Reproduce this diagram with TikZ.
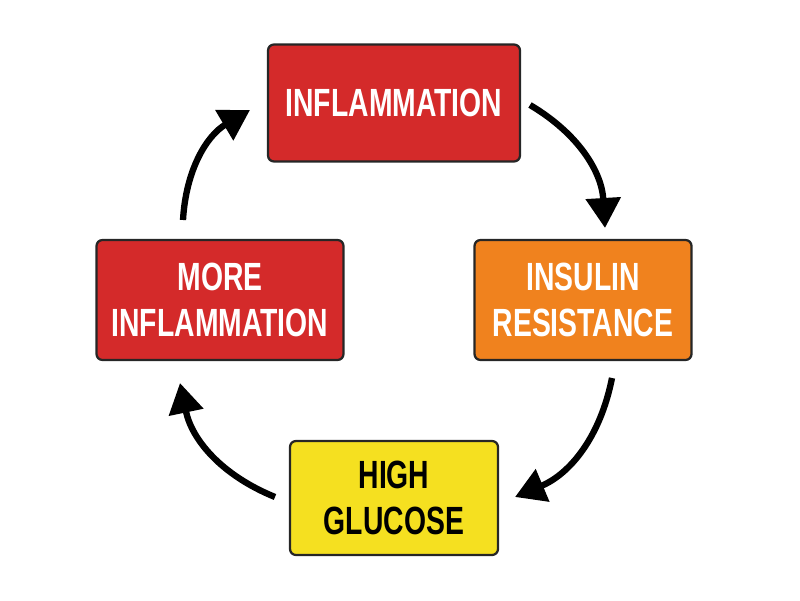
\documentclass[tikz,border=0pt]{standalone}
\usepackage{fontspec}
\setmainfont{Liberation Sans}[FakeStretch=0.72]
\usetikzlibrary{arrows.meta}
\definecolor{boxred}{HTML}{D42A2A}
\definecolor{boxorange}{HTML}{F0821E}
\definecolor{boxyellow}{HTML}{F5E020}
\tikzset{>={Triangle[length=7.5mm,width=8.5mm]}}
\tikzset{stage/.style={draw=black!85,line width=1.6pt,rounded corners=1.5mm,align=center,
  font=\fontsize{28}{33}\selectfont\bfseries,text=white}}
\tikzset{cycle/.style={->,line width=4.5pt,bend left=28}}

\begin{document}
\begin{tikzpicture}
	\useasboundingbox (0,0) rectangle (20,15);
	\node[stage,fill=boxred,minimum width=6.3cm,minimum height=2.925cm] (inflammation) at (9.85,12.425) {INFLAMMATION};
	\node[stage,fill=boxorange,minimum width=5.425cm,minimum height=3cm] (resistance) at (14.575,7.5) {INSULIN\\RESISTANCE};
	\node[stage,fill=boxyellow,text=black,minimum width=5.2cm,minimum height=2.85cm] (glucose) at (9.85,2.55) {HIGH\\GLUCOSE};
	\node[stage,fill=boxred,minimum width=6.175cm,minimum height=3cm] (more) at (5.5,7.5) {MORE\\INFLAMMATION};
	\coordinate (a1s) at (13.25,12.375);
	\coordinate (a1e) at (15.125,9.3);
	\coordinate (a2s) at (15.3,5.55);
	\coordinate (a2e) at (12.875,2.575);
	\coordinate (a3s) at (6.875,2.575);
	\coordinate (a3e) at (4.5,5.425);
	\coordinate (a4s) at (4.575,9.5);
	\coordinate (a4e) at (6.25,12.25);
	\draw[cycle] (a1s) to (a1e);
	\draw[cycle] (a2s) to (a2e);
	\draw[cycle] (a3s) to (a3e);
	\draw[cycle] (a4s) to (a4e);
\end{tikzpicture}
\end{document}
